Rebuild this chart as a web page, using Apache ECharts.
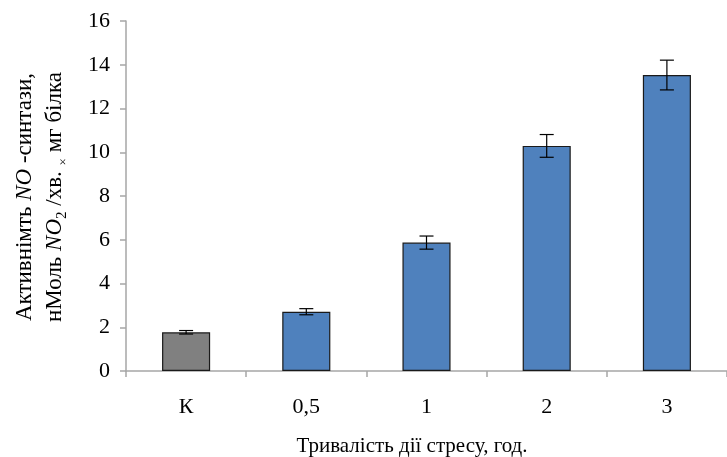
<!DOCTYPE html>
<html>
<head>
<meta charset="utf-8">
<script src="https://cdn.jsdelivr.net/npm/echarts@6/dist/echarts.min.js"></script>
<style>html,body{margin:0;padding:0;background:#fff}#c{width:727px;height:457px}</style>
</head>
<body>
<div id="c"></div>
<script>
var categories = ['К', '0,5', '1', '2', '3'];
var values = [1.77, 2.71, 5.87, 10.29, 13.53];
var errors = [0.08, 0.14, 0.30, 0.52, 0.68];
var barColors = ['#808080', '#4F81BD', '#4F81BD', '#4F81BD', '#4F81BD'];
var yTicks = [0, 2, 4, 6, 8, 10, 12, 14, 16];

var FONT = '"Liberation Serif", "Times New Roman", serif';
var chart = echarts.init(document.getElementById('c'));

var barData = values.map(function (v, i) {
  return { value: v, itemStyle: { color: barColors[i] } };
});
var errData = values.map(function (v, i) {
  return [i, v - errors[i], v + errors[i]];
});

chart.setOption({
  animation: false,
  backgroundColor: '#ffffff',
  grid: { left: 126, right: -5, top: 21, bottom: 86, containLabel: false },
  xAxis: {
    type: 'category',
    data: categories,
    axisLine: { lineStyle: { color: '#a6a6a6', width: 1.5 } },
    axisTick: { show: true, length: 6, lineStyle: { color: '#a6a6a6', width: 1.5 } },
    axisLabel: { color: '#000', fontFamily: FONT, fontSize: 22, margin: 25 },
    splitLine: { show: false }
  },
  yAxis: {
    type: 'value',
    min: yTicks[0],
    max: yTicks[yTicks.length - 1],
    interval: 2,
    axisLine: { show: true, lineStyle: { color: '#a6a6a6', width: 1.5 } },
    axisTick: { show: true, length: 6, lineStyle: { color: '#a6a6a6', width: 1.5 } },
    axisLabel: { color: '#000', fontFamily: FONT, fontSize: 22, margin: 16 },
    splitLine: { show: false }
  },
  series: [
    {
      type: 'bar',
      data: barData,
      barWidth: '40%',
      itemStyle: { borderColor: '#1a1a1a', borderWidth: 1.2 },
      z: 2
    },
    {
      type: 'custom',
      data: errData,
      z: 5,
      renderItem: function (params, api) {
        var lo = api.coord([api.value(0), api.value(1)]);
        var hi = api.coord([api.value(0), api.value(2)]);
        var hw = 7;
        var st = { stroke: '#000', lineWidth: 1.2 };
        return {
          type: 'group',
          children: [
            { type: 'line', shape: { x1: lo[0], y1: lo[1], x2: hi[0], y2: hi[1] }, style: st },
            { type: 'line', shape: { x1: lo[0] - hw, y1: lo[1], x2: lo[0] + hw, y2: lo[1] }, style: st },
            { type: 'line', shape: { x1: hi[0] - hw, y1: hi[1], x2: hi[0] + hw, y2: hi[1] }, style: st }
          ]
        };
      }
    }
  ],
  graphic: [
    {
      type: 'text',
      x: 412, y: 446,
      style: {
        text: 'Тривалість дії стресу, год.',
        font: '21px ' + FONT,
        fill: '#000',
        textAlign: 'center',
        textVerticalAlign: 'middle'
      }
    },
    {
      type: 'text',
      x: 40, y: 197,
      rotation: Math.PI / 2,
      style: {
        text: '{a|Активнімть }{i|NO}{a| -синтази,}\n{a|нМоль }{i|NO}{s|2}{a| /хв. }{x|×}{a| мг білка}',
        fill: '#000',
        textAlign: 'center',
        textVerticalAlign: 'middle',
        rich: {
          a: { fontFamily: FONT, fontSize: 23, lineHeight: 30, fill: '#000' },
          i: { fontFamily: FONT, fontSize: 23, fontStyle: 'italic', lineHeight: 30, fill: '#000' },
          s: { fontFamily: FONT, fontSize: 15, lineHeight: 30, verticalAlign: 'bottom', fill: '#000' },
          x: { fontFamily: FONT, fontSize: 13, lineHeight: 30, verticalAlign: 'bottom', fill: '#000' }
        }
      }
    }
  ]
});
</script>
</body>
</html>
